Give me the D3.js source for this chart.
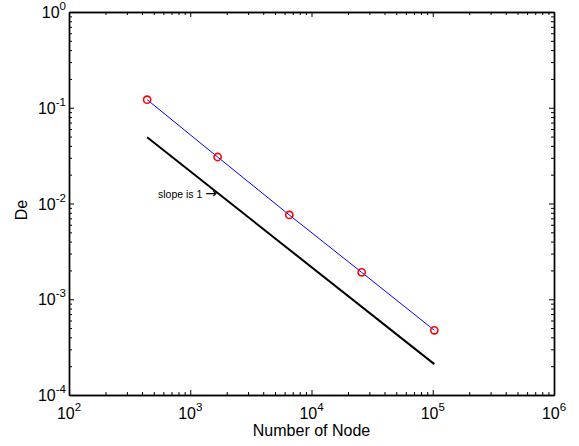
<!DOCTYPE html>
<html>
<head>
<meta charset="utf-8">
<script src="https://cdn.jsdelivr.net/npm/d3@7"></script>
<style>
  body { margin: 0; background: #fff; }
  svg { display: block; font-family: "Liberation Sans", Arial, sans-serif; }
</style>
</head>
<body>
<script>
/*** data ***/
const nodes = [441, 1681, 6561, 25921, 103041];
const errors = [0.1214, 0.0306, 0.00759, 0.00191, 0.000474];
const refNodes = [441, 103041];          // slope-1 reference line
const refValues = [0.0491, 0.00021];
const xExponents = [2, 3, 4, 5, 6];
const yExponents = [-4, -3, -2, -1, 0];

/*** layout ***/
const width = 579, height = 446;
const margin = { left: 69, top: 12, right: 25, bottom: 51 };

const x = d3.scaleLog().domain([1e2, 1e6]).range([margin.left, width - margin.right]);
const y = d3.scaleLog().domain([1e-4, 1]).range([height - margin.bottom, margin.top]);

const svg = d3.select("body").append("svg")
  .attr("width", width)
  .attr("height", height);

// minor ticks 2..9 within each decade
function minors(lo, hi) {
  const out = [];
  for (let e = lo; e < hi; e++) for (let k = 2; k <= 9; k++) out.push(k * Math.pow(10, e));
  return out;
}
const xMajor = xExponents.map(e => Math.pow(10, e));
const yMajor = yExponents.map(e => Math.pow(10, e));
const xMinor = minors(2, 6);
const yMinor = minors(-4, 0);

/*** axes: ticks on all four sides, pointing inward ***/
function addAxis(axisFn, scale, pos, vals, size) {
  svg.append("g")
    .attr("transform", pos)
    .call(axisFn(scale).tickValues(vals).tickSize(size).tickSizeOuter(0).tickFormat(""))
    .call(g => g.selectAll("line").attr("stroke", "#000").attr("stroke-width", 1))
    .call(g => g.select(".domain").attr("stroke", "#000").attr("stroke-width", 1.4));
}
const x0 = margin.left, x1 = width - margin.right;
const y0 = height - margin.bottom, y1 = margin.top;
addAxis(d3.axisBottom, x, `translate(0,${y0})`, xMajor, -5);
addAxis(d3.axisBottom, x, `translate(0,${y0})`, xMinor, -3);
addAxis(d3.axisTop, x, `translate(0,${y1})`, xMajor, -5);
addAxis(d3.axisTop, x, `translate(0,${y1})`, xMinor, -3);
addAxis(d3.axisLeft, y, `translate(${x0},0)`, yMajor, -5);
addAxis(d3.axisLeft, y, `translate(${x0},0)`, yMinor, -3);
addAxis(d3.axisRight, y, `translate(${x1},0)`, yMajor, -5);
addAxis(d3.axisRight, y, `translate(${x1},0)`, yMinor, -3);

/*** tick labels like 10^n ***/
function powerLabel(sel, e) {
  sel.append("tspan").text("10");
  sel.append("tspan").attr("dy", -8).attr("font-size", 11.5).text(e);
}
svg.append("g").selectAll("text")
  .data(xExponents)
  .join("text")
  .attr("x", d => x(Math.pow(10, d)))
  .attr("y", y0 + 24)
  .attr("text-anchor", "middle")
  .attr("font-size", 16)
  .each(function (d) { powerLabel(d3.select(this), d); });

svg.append("g").selectAll("text")
  .data(yExponents)
  .join("text")
  .attr("x", x0 - 3)
  .attr("y", d => y(Math.pow(10, d)) + 6)
  .attr("text-anchor", "end")
  .attr("font-size", 16)
  .each(function (d) { powerLabel(d3.select(this), d); });

/*** axis titles ***/
svg.append("text")
  .attr("x", (x0 + x1) / 2)
  .attr("y", 436)
  .attr("text-anchor", "middle")
  .attr("font-size", 16)
  .text("Number of Node");

svg.append("text")
  .attr("transform", `translate(27,210) rotate(-90)`)
  .attr("text-anchor", "middle")
  .attr("font-size", 16)
  .text("De");

/*** reference line ***/
const line = d3.line().x(d => x(d[0])).y(d => y(d[1]));
svg.append("path")
  .datum(d3.zip(refNodes, refValues))
  .attr("d", line)
  .attr("fill", "none")
  .attr("stroke", "#000")
  .attr("stroke-width", 2);

/*** error line + markers ***/
const pts = d3.zip(nodes, errors);
svg.append("path")
  .datum(pts)
  .attr("d", line)
  .attr("fill", "none")
  .attr("stroke", "#0000ff")
  .attr("stroke-width", 1);

svg.append("g").selectAll("circle")
  .data(pts)
  .join("circle")
  .attr("cx", d => x(d[0]))
  .attr("cy", d => y(d[1]))
  .attr("r", 3.6)
  .attr("fill", "none")
  .attr("stroke", "#ff0000")
  .attr("stroke-width", 1.6);

/*** annotation ***/
const note = svg.append("text")
  .attr("x", 158)
  .attr("y", 198)
  .attr("font-size", 10.5);
note.append("tspan").text("slope is 1 ");
note.append("tspan")
  .attr("font-family", "DejaVu Sans")
  .attr("font-size", 14)
  .text("\u2192");
</script>
</body>
</html>
